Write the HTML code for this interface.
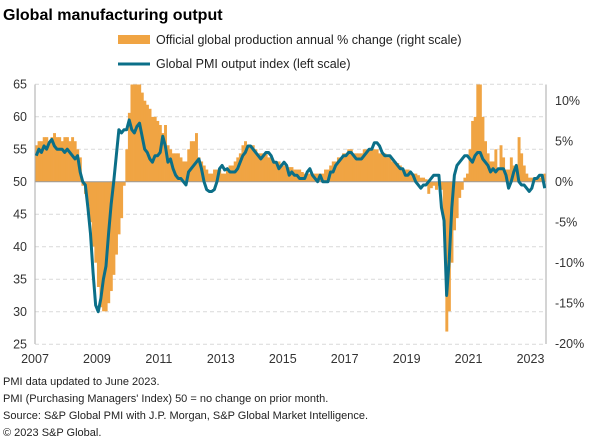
<!DOCTYPE html>
<html><head><meta charset="utf-8"><style>
body{margin:0;background:#fff;width:602px;height:442px;overflow:hidden;font-family:"Liberation Sans",Arial,sans-serif;}
svg text{font-family:"Liberation Sans",Arial,sans-serif;}
</style></head><body>
<svg id="chart" width="602" height="442" xmlns="http://www.w3.org/2000/svg">
<text x="3" y="20" font-size="16" font-weight="bold" fill="#000">Global manufacturing output</text>
<g>
<rect x="118" y="35" width="32" height="9" fill="#f0a443"/>
<text x="156" y="44" font-size="12.5" fill="#222">Official global production annual % change (right scale)</text>
<line x1="118" y1="64" x2="150" y2="64" stroke="#0b6f88" stroke-width="3"/>
<text x="156" y="68" font-size="12.5" fill="#222">Global PMI output index (left scale)</text>
</g>
<defs><clipPath id="plotclip"><rect x="35" y="84.5" width="511" height="260"/></clipPath></defs>
<g id="grid"></g>
<g id="bars" clip-path="url(#plotclip)"></g>
<line x1="35" y1="181.7" x2="546" y2="181.7" stroke="#999" stroke-width="1"/>
<line x1="35" y1="84.5" x2="35" y2="344" stroke="#aaa" stroke-width="1"/>
<line x1="546" y1="84.5" x2="546" y2="344" stroke="#aaa" stroke-width="1"/>
<g id="line" clip-path="url(#plotclip)"></g>
<g id="axes"></g>
<g font-size="11" fill="#222">
<text x="3" y="385">PMI data updated to June 2023.</text>
<text x="3" y="402">PMI (Purchasing Managers' Index) 50 = no change on prior month.</text>
<text x="3" y="419">Source: S&amp;P Global PMI with J.P. Morgan, S&amp;P Global Market Intelligence.</text>
<text x="3" y="436">© 2023 S&amp;P Global.</text>
</g>
</svg>
<script>
const pmiValues = [
54,55,54.5,55.5,55,56,56.5,55.5,55,55,55,54.5,
55,54.5,54,53.5,54,51.5,50,49.5,46,42,36,31,
30,32,35,37,42,46.5,50,54,58,57.5,58,58,
59.5,58,57.5,58.5,59,57,55,54.5,53.5,53,54,54,
54.5,57,55.5,53,53.5,52,51,50.5,50.5,50,49.5,51.5,
52,52.5,53,53.5,52,50,48.8,48.5,48.5,48.8,50,52,
52.5,51.8,52,51.5,51.5,51.5,52,53,54,54.5,55.5,55.5,
55,54.5,54,53.5,54,54.5,54.5,54,53,53,52,52.5,
53,52.5,51,51.5,51,51,50.5,50.5,50.5,51.5,52,51,
50.5,50,51,50,50,50,51.5,51.5,52.5,53,53.5,54,
54,54.5,54.5,54,53.5,53.5,53.5,54,54.5,55,55,56,
56,55.5,54.5,54,54,54,53.5,53,52.5,52,52,51,
51,51.5,51,50,49.5,49,49.5,49.5,50,50.5,51,51,
51,46,44,32.5,38,46,51,52.5,53,53.5,54,54,
53.5,53,54,54.5,54.5,53.5,53,52.5,51.5,52,51.5,52,
52,52,51,49,50,51.5,52.5,50,49.5,49.5,49,48.5,
49,50.5,50.5,51,51,49];
const productionValues = [
4.5,5,5,5.5,5.5,5,5.5,6,5.5,5.5,5,5.5,
5.5,5,5.5,5,4,3,-0.5,-1.5,-3,-5,-8,-10,
-13,-15.5,-16,-16,-15,-13.5,-11.5,-9,-6.5,-4.5,-0.5,4,
8.5,13,14,14,13,11,10,9.5,9,8,8,7.5,
7,6,7,4.5,4,3.5,3.5,3.5,3,2.5,2.5,4,
5,5,6,3,2.5,2,1.5,1,1,1.5,1.5,1.5,
1,1,1.5,2,2,2.5,3,3.5,4.5,5,4.5,4.5,
4.5,4,3.5,3.5,3.5,3.5,3,3,2.5,2.5,2.5,2,
2,2,1.8,1.8,1.5,1.5,1.5,1.2,1,1,1,1,
1,1,1,1,1.5,1.5,2,2.5,2.5,3,3,3.5,
3.5,4,4,3.5,3.5,3.5,3.5,4,4,4,4.2,4,
4,3.5,3.5,3.5,3,3,2.5,2.5,2.3,2,1.5,1.5,
1.5,1.2,1,1,0.8,0.5,0.5,0.3,-1.5,-0.8,-0.5,-1,
-0.5,-1,-5.5,-18.5,-16,-10,-6,-4.5,-2,-1,0.5,1,
4,7.5,8,13,13,8,5,3.5,2.5,2.5,4,1.5,
4.5,3,1.5,1.5,3,2,2,5.5,3.5,2,1,0.5,
0.5,0.5,0.5,0.5,0.8,1];
const leftTicks = [65,60,55,50,45,40,35,30,25];
const rightTicks = [10,5,0,-5,-10,-15,-20];
const rightTickLabels = ["10%","5%","0%","-5%","-10%","-15%","-20%"];
const yearLabels = ["2007","2009","2011","2013","2015","2017","2019","2021","2023"];

const NS="http://www.w3.org/2000/svg";
const x0=35, x1=546, nMonths=198;
const monthW=(x1-x0)/nMonths;
function xMonth(i){return x0+i*monthW;}
function yLeft(v){return 181.7-(v-50)*6.5;}
function yRight(p){return 181.7-p*8.1;}
function mk(tag,attrs,parent){const e=document.createElementNS(NS,tag);for(const k in attrs)e.setAttribute(k,attrs[k]);parent.appendChild(e);return e;}

const grid=document.getElementById('grid');
leftTicks.forEach(v=>{
  if(v===50)return;
  const l=mk('line',{x1:x0,x2:x1,y1:yLeft(v),y2:yLeft(v),stroke:'#d9d9d9','stroke-width':1,'stroke-dasharray':'4,3'},grid);
  
  
});

const bars=document.getElementById('bars');
productionValues.forEach((p,i)=>{
  const y=yRight(Math.max(p,0)), h=Math.abs(yRight(p)-yRight(0));
  const r=mk('rect',{x:xMonth(i),y:y,width:monthW+0.35,height:h,fill:'#f0a443'},bars);
  
  
});

const lineG=document.getElementById('line');
const pts=pmiValues.map((v,i)=>(xMonth(i)+monthW/2).toFixed(2)+','+yLeft(v).toFixed(2)).join(' ');
const pl=mk('polyline',{points:pts,fill:'none',stroke:'#0b6f88','stroke-width':3,'stroke-linejoin':'round'},lineG);



const axes=document.getElementById('axes');
leftTicks.forEach(v=>{
  const t=mk('text',{x:27,y:yLeft(v)+4.5,'text-anchor':'end','font-size':12.5,fill:'#333'},axes);
  t.textContent=v;
  
  
});
rightTicks.forEach((p,i)=>{
  const t=mk('text',{x:555,y:yRight(p)+4.5,'font-size':12.5,fill:'#333'},axes);
  t.textContent=rightTickLabels[i];
  
  
});
yearLabels.forEach(s=>{
  const m=(parseInt(s)-2007)*12;
  const t=mk('text',{x:xMonth(m),y:363,'text-anchor':'middle','font-size':12.5,fill:'#333'},axes);
  t.textContent=s;
  
  
});
</script>
</body></html>
